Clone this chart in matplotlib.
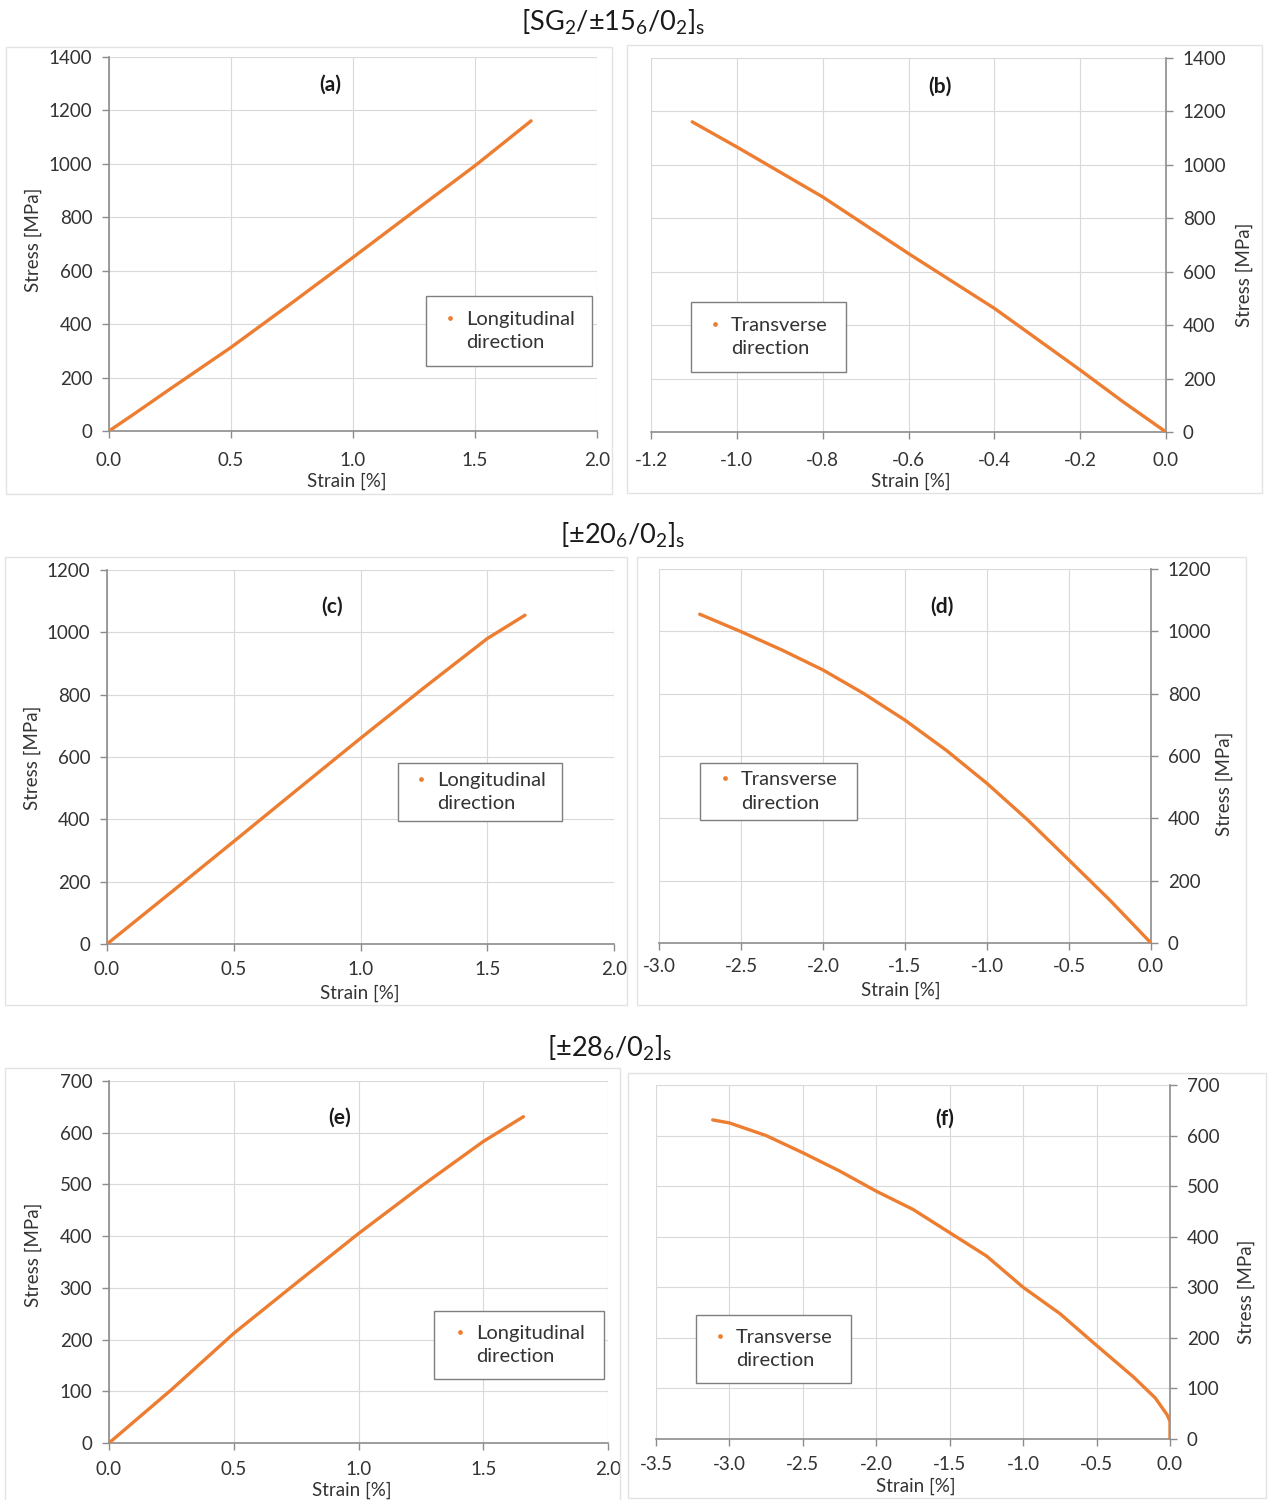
import matplotlib
matplotlib.use("Agg")
import matplotlib.pyplot as plt
from matplotlib.patches import Rectangle
from matplotlib.lines import Line2D

# ---------------- data ----------------
strain_a = [0.0, 0.1, 0.25, 0.5, 0.75, 1.0, 1.25, 1.5, 1.73]
stress_a = [0, 62, 157, 313, 480, 650, 822, 993, 1161]

strain_b = [0.0, -0.1, -0.2, -0.4, -0.6, -0.8, -1.0, -1.104]
stress_b = [0, 113, 232, 463, 668, 880, 1067, 1161]

strain_c = [0.0, 0.25, 0.5, 0.75, 1.0, 1.25, 1.5, 1.649]
stress_c = [0, 164, 329, 495, 660, 822, 980, 1055]

strain_d = [0.0, -0.25, -0.5, -0.75, -1.0, -1.25, -1.5, -1.75, -2.0, -2.25, -2.5, -2.752]
stress_d = [0, 137, 266, 394, 512, 619, 715, 800, 876, 940, 999, 1055]

strain_e = [0.0, 0.25, 0.5, 0.75, 1.0, 1.25, 1.5, 1.661]
stress_e = [0, 103, 212, 309, 405, 496, 583, 631]

strain_f = [0.0, 0.0, -0.02, -0.1, -0.25, -0.5, -0.75, -1.0, -1.25, -1.5,
            -1.75, -2.0, -2.25, -2.5, -2.75, -3.0, -3.114]
stress_f = [0, 35, 48, 81, 123, 185, 248, 300, 362, 408,
            454, 490, 530, 566, 600, 625, 631]

titles = ["[SG$_2$/±15$_6$/0$_2$]$_\\mathrm{s}$",
          "[±20$_6$/0$_2$]$_\\mathrm{s}$",
          "[±28$_6$/0$_2$]$_\\mathrm{s}$"]

LONG = ["Longitudinal", "direction"]
TRANS = ["Transverse", "direction"]

# ---------------- style ----------------
plt.rcParams['font.family'] = ['Lato', 'DejaVu Sans']
plt.rcParams['mathtext.fontset'] = 'custom'
plt.rcParams['mathtext.rm'] = 'Lato'
plt.rcParams['mathtext.it'] = 'Lato:italic'
plt.rcParams['mathtext.bf'] = 'Lato:bold'
plt.rcParams['axes.unicode_minus'] = False

ORANGE = "#ED7D31"
SPINE = "#8c8c8c"
GRID = "#d9d9d9"
TXT = "#333333"

W, H = 1268, 1500
fig = plt.figure(figsize=(W / 100, H / 100), dpi=100)


def fx(px):
    return px / W


def fy(py):
    return 1 - py / H


def panel(plot, border, x, y, xlim, xstep, ylim, ystep, side, tag,
          tagpos, legbox, label, ylab, xlab, xpad):
    x0, y0, x1, y1 = plot
    # chart border (Excel style)
    bx0, by0, bx1, by1 = border
    fig.patches.append(Rectangle((fx(bx0), fy(by1)), fx(bx1 - bx0), (by1 - by0) / H,
                                 transform=fig.transFigure, fill=False,
                                 edgecolor="#e3e3e3", lw=1.0, zorder=0))
    ax = fig.add_axes([fx(x0), fy(y1), fx(x1 - x0), (y1 - y0) / H])
    ax.plot(x, y, color=ORANGE, lw=2.4, solid_capstyle="round", zorder=3)
    ax.set_xlim(*xlim)
    ax.set_ylim(*ylim)
    n = int(round((xlim[1] - xlim[0]) / xstep))
    ax.set_xticks([xlim[0] + i * xstep for i in range(n + 1)])
    ax.set_xticklabels(["%.1f" % (xlim[0] + i * xstep) for i in range(n + 1)])
    m = int(round((ylim[1] - ylim[0]) / ystep))
    ax.set_yticks([ylim[0] + i * ystep for i in range(m + 1)])
    ax.grid(True, color=GRID, lw=0.8)
    ax.set_axisbelow(True)
    for s in ["top", "left", "right"]:
        ax.spines[s].set_visible(False)
    ax.spines["bottom"].set_color(SPINE)
    ax.spines["bottom"].set_linewidth(1.2)
    if side == "right":
        ax.spines["right"].set_visible(True)
        ax.spines["right"].set_color(SPINE)
        ax.spines["right"].set_linewidth(1.2)
        ax.yaxis.tick_right()
    else:
        ax.spines["left"].set_visible(True)
        ax.spines["left"].set_color(SPINE)
        ax.spines["left"].set_linewidth(1.2)
    ax.tick_params(axis="both", colors=SPINE, labelcolor=TXT, labelsize=13.5,
                   length=5, width=1.0, direction="out")
    ax.tick_params(axis="x", pad=xpad)
    ax.tick_params(axis="y", pad=7)

    # axis titles, placed at their pixel centres
    ax.text((ylab[0] - x0) / (x1 - x0), (y1 - ylab[1]) / (y1 - y0), "Stress [MPa]",
            transform=ax.transAxes, rotation=90, ha="center", va="center",
            fontsize=13.5, color=TXT, clip_on=False)
    ax.text((xlab[0] - x0) / (x1 - x0), (y1 - xlab[1]) / (y1 - y0), "Strain [%]",
            transform=ax.transAxes, ha="center", va="center",
            fontsize=13.5, color=TXT, clip_on=False)

    ax.text((tagpos[0] - x0) / (x1 - x0), (y1 - tagpos[1]) / (y1 - y0), tag,
            transform=ax.transAxes, ha="center", va="center",
            fontsize=15, fontweight="bold", color="#1a1a1a")

    # legend box
    lx0, ly0, lx1, ly1 = legbox
    ax.add_patch(Rectangle((fx(lx0), fy(ly1)), fx(lx1 - lx0), (ly1 - ly0) / H,
                           transform=fig.transFigure, fill=True, facecolor="white",
                           edgecolor="#7f7f7f", lw=1.0, zorder=5, clip_on=False))
    handle = Line2D([], [], color=ORANGE, marker="o", markersize=2.4, linestyle="")
    blank = Line2D([], [], linestyle="", marker="")
    leg = ax.legend([handle, blank], label, loc="center",
                    bbox_to_anchor=(fx(lx0), fy(ly1), fx(lx1 - lx0), (ly1 - ly0) / H),
                    bbox_transform=fig.transFigure, frameon=False, fontsize=14.5,
                    handlelength=0.6, handletextpad=0.5, labelspacing=0.3,
                    borderpad=0.0)
    for t in leg.get_texts():
        t.set_color(TXT)
    leg.set_zorder(10)
    return ax


panel((109, 57, 597, 431), (6, 47, 612, 494), strain_a, stress_a,
      (0, 2.0), 0.5, (0, 1400), 200, "left", "(a)", (330, 85),
      (426, 296, 592, 366), LONG, (33, 240), (347, 481), 10)
panel((651, 58, 1166, 432), (627, 45, 1262, 493), strain_b, stress_b,
      (-1.2, 0.0), 0.2, (0, 1400), 200, "right", "(b)", (940, 87),
      (691, 302, 846, 372), TRANS, (1244, 275), (911, 481), 9.5)
panel((107, 570, 614, 944), (5, 557, 627, 1005), strain_c, stress_c,
      (0, 2.0), 0.5, (0, 1200), 200, "left", "(c)", (332, 607),
      (398, 763, 562, 821), LONG, (32, 758), (360, 993), 7)
panel((659, 569, 1151, 943), (637, 557, 1246, 1005), strain_d, stress_d,
      (-3.0, 0.0), 0.5, (0, 1200), 200, "right", "(d)", (942, 607),
      (700, 763, 857, 820), TRANS, (1224, 784), (901, 990), 6)
panel((109, 1081, 608, 1443), (5, 1068, 620, 1502), strain_e, stress_e,
      (0, 2.0), 0.5, (0, 700), 100, "left", "(e)", (340, 1118),
      (434, 1311, 604, 1379), LONG, (33, 1255), (352, 1490), 8)
panel((656, 1085, 1170, 1439), (628, 1073, 1266, 1498), strain_f, stress_f,
      (-3.5, 0.0), 0.5, (0, 700), 100, "right", "(f)", (945, 1119),
      (696, 1315, 851, 1383), TRANS, (1246, 1292), (916, 1486), 7.5)

for t, (px, py) in zip(titles, [(613, 22), (623, 535), (610, 1048)]):
    fig.text(fx(px), fy(py), t, ha="center", va="center", fontsize=19.5, color="#1a1a1a")

fig.savefig("out.png", dpi=100, facecolor="white")
